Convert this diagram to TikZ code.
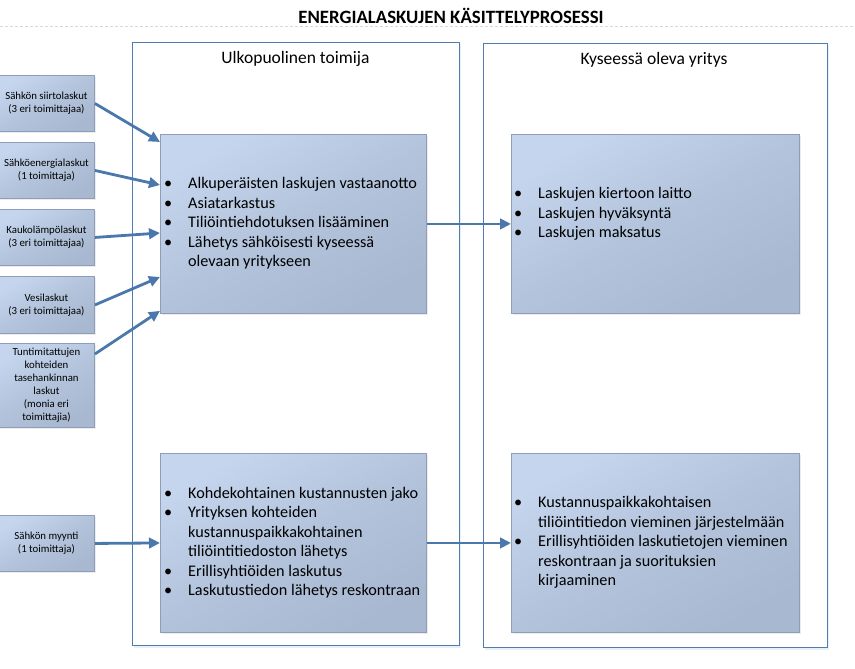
\documentclass[tikz,border=0pt]{standalone}
\usepackage{fontspec}
\setmainfont{Carlito}
\usetikzlibrary{arrows.meta,shadows}
\definecolor{framec}{HTML}{4F7CB0}
\definecolor{arrowc}{HTML}{4A78AC}
\definecolor{boxlight}{HTML}{C4D5ED}
\definecolor{boxmid}{HTML}{B2C3DB}
\definecolor{boxdark}{HTML}{A8B8D0}
\definecolor{boxborder}{HTML}{8D9EB6}
\definecolor{dashc}{HTML}{D9D9D9}
\newcommand{\bl}{\textbullet}
\tikzset{
  frame/.style={draw=framec, line width=1pt, fill=white, anchor=north west, inner sep=0pt,
    drop shadow={shadow xshift=1pt, shadow yshift=-2pt, opacity=0.12, fill=framec}},
  boxfill/.style={draw=boxborder, line width=0.9pt, top color=boxlight, bottom color=boxdark,
    middle color=boxmid, shading angle=30, anchor=north west, inner sep=0pt,
    drop shadow={shadow xshift=1.5pt, shadow yshift=-1.5pt, opacity=0.15, fill=black!50}},
  srcbox/.style={boxfill, minimum width=96pt},
  procbox/.style={boxfill},
  srctext/.style={align=center, font=\fontsize{10.8}{13}\selectfont, inner sep=0pt},
  proctext/.style={anchor=west, inner sep=0pt, font=\fontsize{16.2}{19.5}\selectfont},
  lbl/.style={font=\fontsize{17.5}{20}\selectfont, inner sep=0pt},
  conn/.style={draw=arrowc, line width=2.8pt, -{Triangle[length=11pt,width=10.5pt]}},
}
\begin{document}
\begin{tikzpicture}[x=1pt, y=-1pt]
\useasboundingbox (0,0) rectangle (855,669);
% title
\node[font=\bfseries\fontsize{18.8}{22}\selectfont, inner sep=0pt] (title) at (451,16) {ENERGIALASKUJEN KÄSITTELYPROSESSI};
\coordinate (dl) at (0,26);
\coordinate (dr) at (855,26);
\draw[dashc, line width=0.8pt, dash pattern=on 3pt off 2pt] (dl) -- (dr);
% frames
\node[frame, minimum width=327pt, minimum height=603pt] (ext) at (132,42) {};
\node[frame, minimum width=344pt, minimum height=604pt] (comp) at (483,43) {};
\node[lbl] (extlbl) at (295.5,59) {Ulkopuolinen toimija};
\node[lbl] (complbl) at (654,60) {Kyseessä oleva yritys};
% process boxes
\node[procbox, minimum width=266pt, minimum height=179pt] (p1) at (160,134) {};
\node[procbox, minimum width=266pt, minimum height=179pt] (p2) at (160,453) {};
\node[procbox, minimum width=288pt, minimum height=179pt] (p3) at (511,134) {};
\node[procbox, minimum width=288pt, minimum height=179pt] (p4) at (511,453) {};
\node[proctext] (t1) at ([xshift=4pt]p1.west) {\begin{tabular}{@{}p{24pt}@{}l@{}}
\bl & Alkuperäisten laskujen vastaanotto\\
\bl & Asiatarkastus\\
\bl & Tiliöintiehdotuksen lisääminen\\
\bl & Lähetys sähköisesti kyseessä\\
 & olevaan yritykseen
\end{tabular}};
\node[proctext] (t2) at ([xshift=4pt]p2.west) {\begin{tabular}{@{}p{24pt}@{}l@{}}
\bl & Kohdekohtainen kustannusten jako\\
\bl & Yrityksen kohteiden\\
 & kustannuspaikkakohtainen\\
 & tiliöintitiedoston lähetys\\
\bl & Erillisyhtiöiden laskutus\\
\bl & Laskutustiedon lähetys reskontraan
\end{tabular}};
\node[proctext] (t3) at ([xshift=3pt, yshift=9.5pt]p3.west) {\begin{tabular}{@{}p{24pt}@{}l@{}}
\bl & Laskujen kiertoon laitto\\
\bl & Laskujen hyväksyntä\\
\bl & Laskujen maksatus
\end{tabular}};
\node[proctext] (t4) at ([xshift=3pt]p4.west) {\begin{tabular}{@{}p{24pt}@{}l@{}}
\bl & Kustannuspaikkakohtaisen\\
 & tiliöintitiedon vieminen järjestelmään\\
\bl & Erillisyhtiöiden laskutietojen vieminen\\
 & reskontraan ja suorituksien\\
 & kirjaaminen
\end{tabular}};
% source boxes
\node[srcbox, minimum height=56pt] (s1) at (-2,75) {};
\node[srcbox, minimum height=56pt] (s2) at (-2,142) {};
\node[srcbox, minimum height=56pt] (s3) at (-2,209) {};
\node[srcbox, minimum height=57pt] (s4) at (-2,276) {};
\node[srcbox, minimum height=84pt] (s5) at (-2,343) {};
\node[srcbox, minimum height=56pt] (s6) at (-2,515) {};
\node[srctext] (st1) at (s1.center) {Sähkön siirtolaskut\\(3 eri toimittajaa)};
\node[srctext] (st2) at (s2.center) {Sähköenergialaskut\\(1 toimittaja)};
\node[srctext] (st3) at (s3.center) {Kaukolämpölaskut\\(3 eri toimittajaa)};
\node[srctext] (st4) at (s4.center) {Vesilaskut\\(3 eri toimittajaa)};
\node[srctext] (st5) at (s5.center) {Tuntimitattujen\\kohteiden\\tasehankinnan\\laskut\\(monia eri\\toimittajia)};
\node[srctext] (st6) at (s6.center) {Sähkön myynti\\(1 toimittaja)};
% connectors
\draw[conn] (s1.east) -- ([yshift=-8pt]p1.north west);
\draw[conn] (s2.east) -- ([yshift=-51pt]p1.north west);
\draw[conn] (s3.east) -- ([yshift=-99pt]p1.north west);
\draw[conn] (s4.east) -- ([yshift=-143pt]p1.north west);
\draw[conn] ([yshift=-11pt]s5.north east) -- ([yshift=3pt]p1.south west);
\draw[conn] (s6.east) -- (p2.west);
\draw[conn] (p1.east) -- (p3.west);
\draw[conn] (p2.east) -- (p4.west);
\end{tikzpicture}
\end{document}
